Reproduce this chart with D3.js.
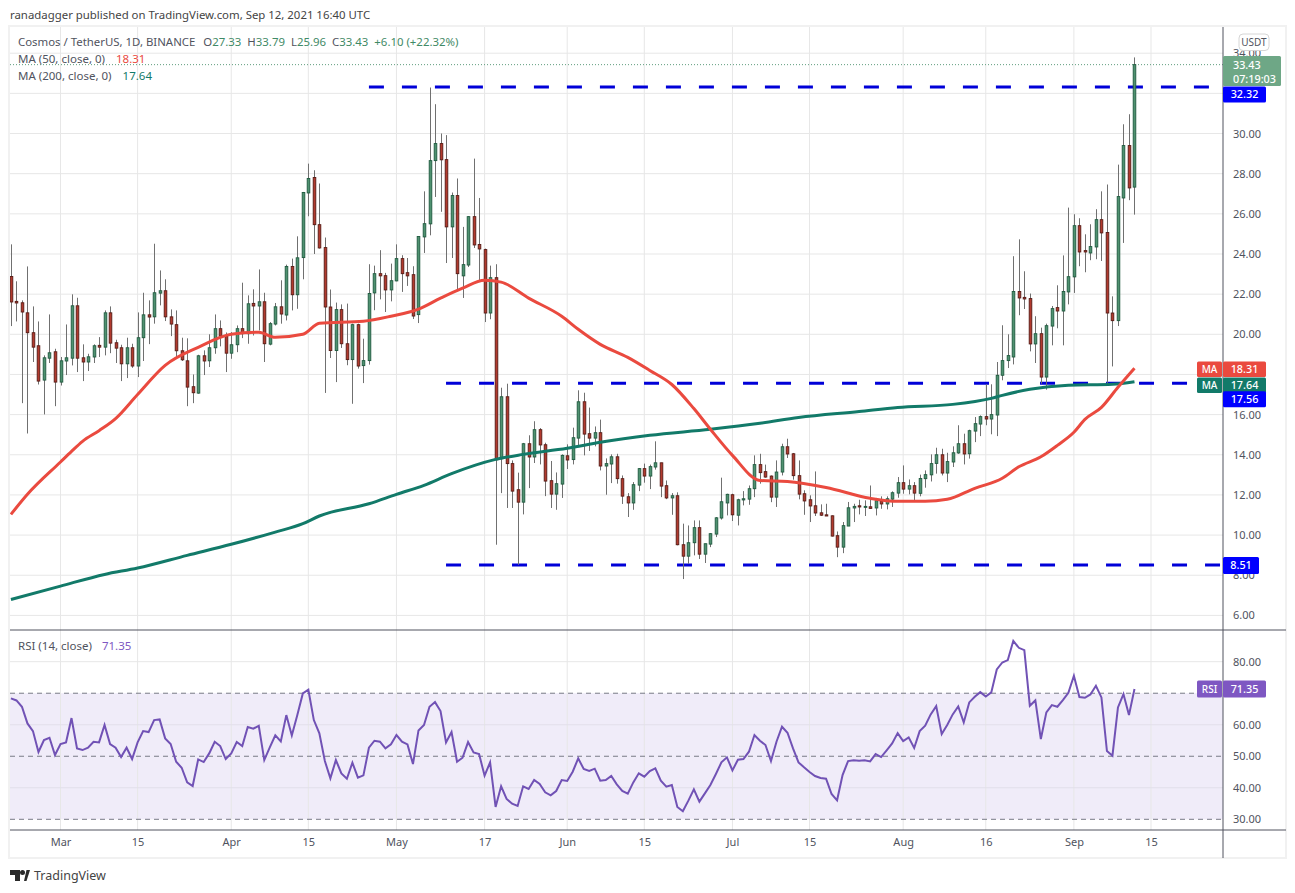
<!DOCTYPE html>
<html>
<head>
<meta charset="utf-8">
<script src="https://cdn.jsdelivr.net/npm/d3@7"></script>
<style>
  html, body { margin: 0; padding: 0; background: #fff; }
  svg { display: block; }
  text { font-family: "Noto Sans", sans-serif; }
</style>
</head>
<body>
<div class="chart"></div>
<script>
// daily candles, first one is Feb 20 2021, last one Sep 12 2021
const highs = [
  24.48,22.64,21.69,23.38,21.39,20.64,18.95,20.99,19.28,18.87,
  20.49,21.99,21.82,19.50,19.03,19.50,19.86,21.19,21.39,19.73,
  19.48,19.83,19.53,21.09,22.07,21.69,24.51,23.18,22.74,21.24,
  21.19,19.83,19.80,18.00,18.98,19.20,20.00,20.99,20.69,20.09,
  20.11,20.44,22.57,21.94,22.24,23.23,22.07,20.61,21.56,22.69,
  23.47,23.77,24.88,27.09,28.50,28.17,27.51,24.82,22.23,21.58,
  21.49,21.53,20.53,20.53,19.78,23.49,23.42,24.19,23.06,23.52,
  24.48,23.94,23.80,23.39,24.88,27.12,32.29,31.46,30.00,29.92,
  27.06,27.76,25.35,25.88,28.75,26.79,24.27,23.42,23.49,17.34,
  17.54,13.72,13.11,14.59,14.97,15.67,15.33,14.60,13.69,13.12,
  14.02,14.52,15.35,17.21,17.09,16.35,15.41,15.75,13.82,14.02,
  14.05,12.97,12.09,12.64,13.34,13.56,13.51,14.67,13.60,12.72,
  12.09,12.13,10.57,10.48,10.73,10.73,9.57,10.10,10.90,12.86,
  12.06,12.06,11.81,12.19,12.47,13.97,14.05,13.51,12.97,13.72,
  14.55,14.80,14.09,13.72,12.23,11.98,13.17,11.53,11.56,10.98,
  10.18,10.65,11.65,11.56,11.76,11.73,12.47,11.85,11.93,11.93,
  12.18,12.89,13.47,12.77,12.64,13.01,13.22,14.02,14.35,14.30,
  14.10,14.42,15.47,15.05,15.25,15.88,15.96,17.51,17.51,18.62,
  20.45,20.00,23.89,24.73,23.14,22.03,20.90,20.33,20.53,21.41,
  22.44,23.93,26.31,25.98,25.78,24.98,25.48,26.23,27.12,27.46,
  21.89,28.45,30.46,30.96,33.79
];
const lows = [
  20.41,20.64,16.57,15.06,18.62,17.50,16.01,18.57,16.42,17.45,
  17.97,18.45,18.12,17.67,18.17,18.57,18.87,18.95,19.06,18.57,
  17.67,17.82,18.33,17.87,18.67,19.51,20.53,21.44,20.66,19.91,
  18.87,18.67,16.42,16.57,17.04,17.97,18.37,19.03,19.40,18.12,
  18.78,19.11,19.81,19.53,19.94,20.19,18.62,19.45,20.44,20.53,
  20.69,21.19,21.27,22.74,25.88,24.00,24.27,17.08,18.82,17.62,
  19.32,18.46,16.54,18.29,17.57,18.49,21.20,21.74,21.11,21.64,
  22.64,22.11,22.41,20.76,20.56,24.05,24.93,26.84,26.10,23.55,
  23.80,22.24,21.81,23.35,24.30,22.69,20.61,20.75,9.52,12.09,
  11.35,11.35,8.52,11.03,12.34,13.59,13.52,11.94,11.35,11.26,
  11.85,13.29,13.52,14.39,13.97,14.19,14.42,13.22,12.01,12.59,
  12.56,11.55,10.90,11.26,12.19,12.61,12.29,13.26,11.89,11.79,
  11.01,9.49,7.81,8.57,8.99,8.81,8.61,9.40,9.90,10.77,
  10.98,10.70,10.48,11.48,11.51,11.89,12.56,12.86,11.64,11.40,
  12.97,13.84,12.76,11.78,11.01,10.65,10.95,10.95,10.95,9.93,
  8.90,9.10,10.45,10.65,11.03,10.95,11.31,10.98,11.31,11.28,
  11.40,11.86,12.06,12.03,11.70,11.93,12.36,12.67,13.06,12.97,
  12.64,13.39,14.05,13.52,13.81,14.63,14.93,15.47,15.02,14.93,
  17.71,18.32,18.50,20.95,21.26,19.15,18.57,17.54,17.24,19.45,
  20.30,19.45,21.49,22.06,23.39,23.09,23.69,23.74,23.65,17.54,
  18.40,20.41,24.55,26.68,25.96
];
const opens = [
  22.88,21.64,21.57,21.07,20.08,19.43,17.72,18.81,19.13,17.62,
  18.67,18.81,21.42,18.83,18.62,18.87,19.45,19.36,21.07,19.58,
  19.33,18.53,19.33,18.42,19.83,20.97,20.87,22.05,22.17,20.87,
  20.48,19.18,18.68,17.39,17.07,18.93,18.68,19.33,20.28,19.91,
  19.06,19.48,20.28,20.03,21.54,21.41,21.62,19.51,20.51,21.37,
  20.96,23.38,21.97,23.82,27.04,27.81,25.46,24.32,21.36,19.19,
  21.23,19.53,18.74,20.48,18.44,18.69,22.06,23.02,22.92,22.21,
  22.66,23.77,23.07,22.97,20.98,24.85,25.50,28.65,29.50,28.70,
  25.35,26.91,22.91,23.45,25.86,24.47,24.22,21.06,22.82,13.80,
  16.89,13.56,12.26,11.64,14.55,13.89,15.25,14.50,12.71,12.04,
  12.54,13.95,13.76,14.83,16.64,15.05,14.83,15.10,13.44,13.54,
  13.90,12.81,11.91,11.60,12.49,13.31,12.94,13.39,13.60,12.46,
  11.85,11.96,9.52,8.95,9.62,10.37,9.05,9.55,10.05,10.85,
  11.60,12.01,10.99,11.75,11.79,12.31,13.51,13.16,12.94,11.89,
  13.14,14.40,14.05,12.96,12.06,11.76,11.46,11.11,11.01,10.96,
  9.97,9.40,10.45,11.35,11.46,11.40,11.41,11.35,11.68,11.55,
  11.79,12.09,12.61,12.29,12.46,12.08,12.81,13.00,13.57,14.00,
  13.09,13.64,14.09,14.55,14.05,15.18,15.53,15.90,15.78,15.98,
  17.96,18.69,18.87,22.13,21.84,21.78,19.52,20.03,17.87,20.41,
  21.33,21.16,22.11,22.86,25.41,24.17,24.05,24.35,25.71,25.07,
  21.06,20.68,26.79,29.40,27.33
];
const closes = [
  21.61,21.56,21.11,20.08,19.36,17.67,18.83,19.08,17.62,18.68,
  18.83,21.42,18.81,18.62,18.88,19.43,19.36,21.07,19.56,19.31,
  18.53,19.33,18.42,19.83,20.97,20.86,22.07,22.17,20.87,20.51,
  19.18,18.73,17.37,17.09,18.93,18.67,19.33,20.28,19.91,19.06,
  19.48,20.28,20.03,21.52,21.41,21.62,19.53,20.53,21.37,21.01,
  23.38,21.97,23.81,27.06,27.76,25.46,24.30,21.36,19.19,21.23,
  19.53,18.74,20.48,18.42,18.69,22.03,23.02,22.91,22.21,22.67,
  23.77,23.02,22.91,20.91,24.87,25.51,28.65,29.50,28.69,25.35,
  26.91,23.02,23.47,25.86,24.45,24.25,21.06,22.82,13.75,16.89,
  13.56,12.19,11.64,14.55,13.89,15.25,14.49,12.69,12.04,12.56,
  13.97,13.74,14.85,16.64,15.03,14.83,15.10,13.44,13.56,13.90,
  12.81,11.94,11.60,12.51,13.31,12.94,13.41,13.60,12.44,11.85,
  11.96,9.52,8.95,9.62,10.37,9.05,9.57,10.07,10.86,11.66,
  12.03,11.01,11.76,11.81,12.31,13.51,13.11,12.89,11.89,13.14,
  14.40,14.04,12.96,12.04,11.70,11.45,11.10,10.99,10.95,9.95,
  9.40,10.47,11.36,11.43,11.40,11.43,11.33,11.71,11.55,11.81,
  12.11,12.61,12.29,12.46,12.09,12.82,13.01,13.56,14.00,13.09,
  13.66,14.10,14.55,14.04,15.20,15.55,15.90,15.78,16.00,17.96,
  18.69,18.94,22.13,21.81,21.76,19.52,20.03,17.87,20.43,21.28,
  21.16,22.13,22.87,25.41,24.10,24.10,24.37,25.71,25.05,21.06,
  20.68,26.86,29.40,27.29,33.43
];
const rsi = [
  68.35,67.71,65.71,60.42,57.99,51.34,55.14,55.88,50.39,53.87,
  54.40,62.11,52.50,51.97,52.71,54.61,54.40,59.90,53.87,52.71,
  49.75,52.71,49.12,54.40,57.99,57.68,61.48,61.69,55.67,53.87,
  48.27,46.37,41.72,40.56,49.01,48.17,50.91,54.61,53.24,49.12,
  50.91,54.51,53.24,59.26,58.73,59.68,48.80,52.82,56.62,54.72,
  63.06,56.62,63.06,69.93,71.09,61.48,57.25,48.48,42.99,48.80,
  44.58,42.88,47.96,43.20,43.94,52.71,54.93,54.61,52.50,53.77,
  56.73,54.61,53.77,47.53,58.20,59.90,65.71,67.18,64.33,54.40,
  57.68,48.27,49.54,54.51,51.23,50.70,43.84,48.06,33.91,40.46,
  36.44,34.96,34.22,40.46,39.61,42.46,41.19,38.55,37.60,38.98,
  42.46,42.15,45.10,49.33,45.95,45.32,46.06,42.25,42.46,43.73,
  41.09,38.98,38.13,41.72,44.58,43.52,45.32,46.16,42.25,40.35,
  40.88,33.91,32.53,35.91,39.50,35.60,38.24,40.88,44.37,48.06,
  49.65,45.53,48.91,49.12,51.44,56.73,54.93,53.56,48.48,54.61,
  59.37,57.46,52.50,48.06,46.48,45.00,43.73,43.10,42.88,38.03,
  36.02,44.05,48.48,48.70,48.59,48.70,48.38,50.70,49.75,51.87,
  54.08,57.36,54.82,55.99,52.61,57.99,59.68,63.28,65.92,57.04,
  59.90,63.28,65.81,60.74,67.08,68.88,70.35,68.98,70.25,77.54,
  79.76,80.50,86.62,84.41,83.67,66.02,67.71,55.46,63.91,66.23,
  65.71,67.82,70.14,75.53,68.77,68.56,69.62,72.36,68.66,51.65,
  50.18,65.49,69.72,63.06,71.35
];

// moving averages, days counted from Mar 1
const ma50Days = [-9,-6,0,2,4,7,10,14,19,25,31,36,39,44,47,55,60,65,69,73,77,80,85,91,94,98,103,107,111,115,118,122,127,132,139,147,152,157,161,166,171,174,178,181,184,186,189,192,195];
const ma50Values = [11.03,12.03,13.64,14.17,14.67,15.2,15.8,17.0,18.45,19.35,20.0,20.1,19.85,20.0,20.55,20.65,20.9,21.25,21.8,22.3,22.69,22.6,21.8,20.9,20.25,19.5,18.85,18.2,17.5,16.3,15.27,13.97,12.72,12.67,12.37,11.83,11.68,11.68,11.78,12.33,12.83,13.4,13.9,14.47,15.12,15.76,16.36,17.36,18.31];
const ma200Days = [-9,0,8,14,23,31,39,44,47,56,61,66,71,79,84,92,98,107,118,127,134,145,152,162,169,171,176,183,191,195];
const ma200Values = [6.79,7.46,8.04,8.36,8.99,9.54,10.15,10.57,10.95,11.56,12.03,12.48,13.06,13.77,14.02,14.32,14.62,14.97,15.27,15.57,15.86,16.16,16.36,16.51,16.81,16.96,17.26,17.46,17.51,17.64];

// horizontal levels drawn by the author
const levelValues = [32.32, 17.56, 8.51];
const levelStartDays = [56, 70, 70];

const priceTicks = [6,8,10,12,14,16,18,20,22,24,26,28,30,32,34];
const rsiTicks = [30,40,50,60,70,80];
const rsiDashed = [70,50,30];
// these labels sit fully behind a price tag in the original
const priceHidden = [18, 32];
const rsiHidden = [70];
const timeTicks = ["2021-03-01","2021-03-15","2021-04-01","2021-04-15","2021-05-01","2021-05-17","2021-06-01","2021-06-15","2021-07-01","2021-07-15","2021-08-01","2021-08-16","2021-09-01","2021-09-15"];
const timeLabels = ["Mar","15","Apr","15","May","17","Jun","15","Jul","15","Aug","16","Sep","15"];

const width = 1295, height = 893;
const paneLeft = 10, axisX = 1223, frameR = 1286;
const paneTop = 27, paneBottom = 630, rsiBottom = 830, frameB = 858;

const textCol = "#50535e", gridCol = "#e7e7e7";
const upFill = "#4f9270", upLine = "#1f5a3f", downFill = "#b23a2e", downLine = "#571b15";
const red = "#ea4a3f", teal = "#127a69", blue = "#0000d8", purple = "#7152b5", tagPurple = "#7e57c2";

const svg = d3.select(".chart").append("svg")
  .attr("width", width)
  .attr("height", height);

const mar1 = new Date(Date.UTC(2021, 2, 1));
const x = d3.scaleUtc()
  .domain([mar1, new Date(Date.UTC(2021, 8, 15))])
  .range([60.5, 1151]);
const xDay = d => x(d3.utcDay.offset(mar1, d));

const y = d3.scaleLinear().domain([6, 34]).range([615.4, 53.2]);
const yRsi = d3.scaleLinear().domain([30, 80]).range([819.3, 661.7]);

// frame
svg.append("rect").attr("x", paneLeft - 1).attr("y", paneTop - 1)
  .attr("width", frameR - paneLeft + 1).attr("height", frameB - paneTop + 1)
  .attr("fill", "none").attr("stroke", "#f1f1f1").attr("stroke-width", 2);

// rsi band goes under the grid
svg.append("rect")
  .attr("x", paneLeft).attr("y", yRsi(70))
  .attr("width", axisX - paneLeft).attr("height", yRsi(30) - yRsi(70))
  .attr("fill", "#f0ecf9");

// grid
const timeDates = timeTicks.map(d => new Date(d + "T00:00:00Z"));
svg.append("g").selectAll("line").data(timeDates).join("line")
  .attr("x1", d => x(d)).attr("x2", d => x(d))
  .attr("y1", paneTop).attr("y2", rsiBottom)
  .attr("stroke", gridCol);
svg.append("g").selectAll("line").data(priceTicks).join("line")
  .attr("x1", paneLeft).attr("x2", axisX)
  .attr("y1", d => y(d)).attr("y2", d => y(d))
  .attr("stroke", gridCol);
svg.append("g").selectAll("line").data(rsiTicks.filter(d => !rsiDashed.includes(d))).join("line")
  .attr("x1", paneLeft).attr("x2", axisX)
  .attr("y1", d => yRsi(d)).attr("y2", d => yRsi(d))
  .attr("stroke", d => d === 80 ? gridCol : "#e2dfea");
svg.append("g").selectAll("line").data(rsiDashed).join("line")
  .attr("x1", paneLeft).attr("x2", axisX)
  .attr("y1", d => yRsi(d)).attr("y2", d => yRsi(d))
  .attr("stroke", "#787b86").attr("stroke-dasharray", "5,4");

// clip so candles stay inside the pane
svg.append("clipPath").attr("id", "pane").append("rect")
  .attr("x", paneLeft).attr("y", paneTop).attr("width", axisX - paneLeft).attr("height", paneBottom - paneTop);

const main = svg.append("g").attr("clip-path", "url(#pane)");

// last close dotted line
main.append("line")
  .attr("x1", paneLeft).attr("x2", axisX)
  .attr("y1", y(33.43)).attr("y2", y(33.43))
  .attr("stroke", "#5f9c7d").attr("stroke-dasharray", "1,2");

// author levels
main.append("g").selectAll("line").data(levelValues).join("line")
  .attr("x1", (d, i) => xDay(levelStartDays[i])).attr("x2", axisX)
  .attr("y1", d => y(d)).attr("y2", d => y(d))
  .attr("stroke", blue).attr("stroke-width", 3)
  .attr("stroke-dasharray", "15,18");

// candles
const candles = highs.map((h, i) => ({
  day: i - 9, high: h, low: lows[i], open: opens[i], close: closes[i]
}));

main.append("g").selectAll("line").data(candles).join("line")
  .attr("x1", d => Math.round(xDay(d.day)) + 0.5).attr("x2", d => Math.round(xDay(d.day)) + 0.5)
  .attr("y1", d => y(d.high)).attr("y2", d => y(d.low))
  .attr("stroke", "#707070");

main.append("g").selectAll("rect").data(candles).join("rect")
  .attr("x", d => Math.round(xDay(d.day)) - 0.8)
  .attr("width", 2.6)
  .attr("y", d => y(Math.max(d.open, d.close)))
  .attr("height", d => Math.max(1, Math.abs(y(d.open) - y(d.close))))
  .attr("fill", d => d.close >= d.open ? upFill : downFill)
  .attr("stroke", d => d.close >= d.open ? upLine : downLine)
  .attr("stroke-width", 0.9);

// moving averages
const line = d3.line().x(d => xDay(d[0])).y(d => y(d[1])).curve(d3.curveMonotoneX);
main.append("path").datum(ma200Days.map((d, i) => [d, ma200Values[i]]))
  .attr("d", line).attr("fill", "none").attr("stroke", teal).attr("stroke-width", 3);
main.append("path").datum(ma50Days.map((d, i) => [d, ma50Values[i]]))
  .attr("d", line).attr("fill", "none").attr("stroke", red).attr("stroke-width", 3);

// rsi line
const rsiLine = d3.line().x((d, i) => xDay(i - 9)).y(d => yRsi(d));
svg.append("path").datum(rsi)
  .attr("d", rsiLine).attr("fill", "none").attr("stroke", purple).attr("stroke-width", 2);

// pane lines
svg.append("line").attr("x1", paneLeft).attr("x2", frameR).attr("y1", paneBottom).attr("y2", paneBottom).attr("stroke", "#50535e");
svg.append("line").attr("x1", paneLeft).attr("x2", frameR).attr("y1", rsiBottom).attr("y2", rsiBottom).attr("stroke", "#50535e");
svg.append("line").attr("x1", axisX).attr("x2", axisX).attr("y1", paneTop).attr("y2", frameB).attr("stroke", "#50535e");

// axes
const styleAxis = g => {
  g.select(".domain").remove();
  g.selectAll("text").attr("fill", textCol).attr("font-size", 11).attr("font-family", '"Noto Sans", sans-serif');
};
svg.append("g").attr("transform", `translate(${axisX},0)`)
  .call(d3.axisRight(y).tickValues(priceTicks.filter(d => !priceHidden.includes(d))).tickFormat(d3.format(".2f")).tickSize(0).tickPadding(10))
  .call(styleAxis);
svg.append("g").attr("transform", `translate(${axisX},0)`)
  .call(d3.axisRight(yRsi).tickValues(rsiTicks.filter(d => !rsiHidden.includes(d))).tickFormat(d3.format(".2f")).tickSize(0).tickPadding(10))
  .call(styleAxis);
svg.append("g").attr("transform", `translate(0,${rsiBottom})`)
  .call(d3.axisBottom(x).tickValues(timeDates).tickFormat((d, i) => timeLabels[i]).tickSize(0).tickPadding(8.5))
  .call(styleAxis);

// price tags
function tag(xp, w, yc, h, fill, label, size) {
  svg.append("rect").attr("x", xp).attr("y", yc - h / 2).attr("width", w).attr("height", h)
    .attr("fill", fill).attr("rx", 1.5);
  svg.append("text").attr("x", xp + w / 2).attr("y", yc + 3.8)
    .attr("text-anchor", "middle").attr("fill", "#fff")
    .attr("font-size", size || 10.8).attr("font-weight", 500).text(label);
}
tag(axisX, 43, y(32.32) + 7.5, 16, "#0000ff", "32.32");
tag(axisX, 43, y(18.31) + 1, 15.5, red, "18.31");
tag(axisX - 26, 25, y(18.31) + 1, 15.5, red, "MA", 10);
tag(axisX, 43, y(17.64) + 3.5, 15.5, teal, "17.64");
tag(axisX - 26, 25, y(17.64) + 3.5, 15.5, teal, "MA", 10);
tag(axisX, 43, y(17.56) + 16, 16, "#0000ff", "17.56");
tag(axisX, 36, y(8.51) + 0.5, 17, "#0000ff", "8.51");
tag(axisX, 43, yRsi(71.35), 17, tagPurple, "71.35");
tag(axisX - 26, 25, yRsi(71.35), 17, tagPurple, "RSI", 10);

// last price, two lines
svg.append("rect").attr("x", axisX).attr("y", 56).attr("width", 58).attr("height", 30).attr("fill", "#6ea786").attr("rx", 1.5);
svg.append("text").attr("x", axisX + 10).attr("y", 69).attr("fill", "#fff").attr("font-size", 10.8).attr("font-weight", 500).text("33.43");
svg.append("text").attr("x", axisX + 10).attr("y", 82.5).attr("fill", "#fff").attr("font-size", 10.8).attr("font-weight", 500).text("07:19:03");

// currency pill
svg.append("rect").attr("x", 1239).attr("y", 34).attr("width", 30).attr("height", 16.5).attr("rx", 4)
  .attr("fill", "#fff").attr("stroke", "#d6d6d6");
svg.append("text").attr("x", 1254).attr("y", 46).attr("text-anchor", "middle")
  .attr("fill", textCol).attr("font-size", 10).text("USDT");

// header and legends
svg.append("text").attr("x", 10).attr("y", 19).attr("fill", "#444").attr("font-size", 11.4)
  .text("ranadagger published on TradingView.com, Sep 12, 2021 16:40 UTC");

const legendGreen = "#3f8a66";
const ohlc = svg.append("text").attr("x", 18).attr("y", 46).attr("font-size", 11.4).attr("fill", textCol);
ohlc.append("tspan").text("Cosmos / TetherUS, 1D, BINANCE");
[["O","27.33"],["H","33.79"],["L","25.96"],["C","33.43"]].forEach(([k, v], i) => {
  ohlc.append("tspan").attr("dx", i === 0 ? 8 : 6).text(k);
  ohlc.append("tspan").attr("fill", legendGreen).text(v);
});
ohlc.append("tspan").attr("dx", 6).attr("fill", legendGreen).text("+6.10 (+22.32%)");

const ma50Legend = svg.append("text").attr("x", 18).attr("y", 63).attr("font-size", 11.5).attr("fill", textCol);
ma50Legend.append("tspan").text("MA (50, close, 0)");
ma50Legend.append("tspan").attr("dx", 11).attr("fill", red).text("18.31");
const ma200Legend = svg.append("text").attr("x", 18).attr("y", 80).attr("font-size", 11.5).attr("fill", textCol);
ma200Legend.append("tspan").text("MA (200, close, 0)");
ma200Legend.append("tspan").attr("dx", 11).attr("fill", teal).text("17.64");
const rsiLegend = svg.append("text").attr("x", 18).attr("y", 650).attr("font-size", 11.5).attr("fill", textCol);
rsiLegend.append("tspan").text("RSI (14, close)");
rsiLegend.append("tspan").attr("dx", 10).attr("fill", tagPurple).text("71.35");

// logo
const logo = svg.append("g").attr("fill", "#2a2a2a");
logo.append("path").attr("d", "M10 870H20V881H15V875H10Z");
logo.append("circle").attr("cx", 22.5).attr("cy", 872.5).attr("r", 2.5);
logo.append("path").attr("d", "M24 881L26.5 870H30L26.5 881Z");
svg.append("text").attr("x", 34).attr("y", 880).attr("fill", "#444").attr("font-size", 12.5).text("TradingView");
</script>
</body>
</html>
